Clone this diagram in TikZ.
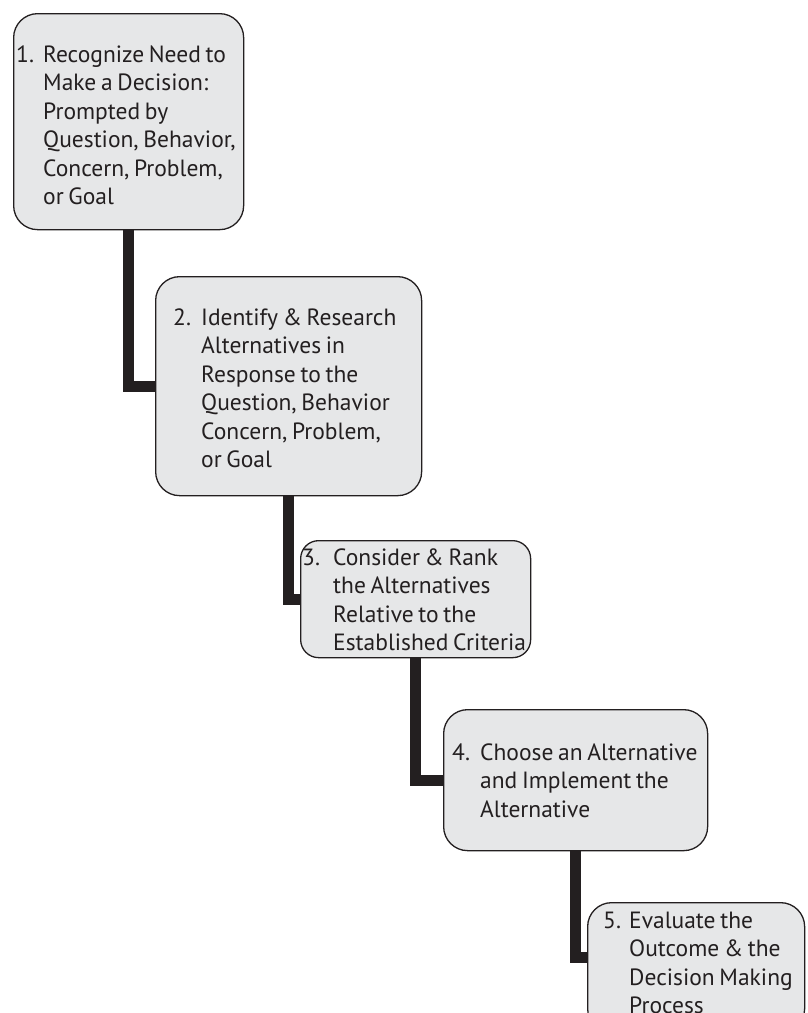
\documentclass[tikz,border=0pt]{standalone}
\usepackage{fontspec}
\setmainfont[WordSpace={0.75}]{PT Sans}
\usepackage{array}
\definecolor{boxgray}{HTML}{E6E7E8}
\definecolor{inkblack}{HTML}{231F20}
\tikzset{
  stepbox/.style={draw=inkblack, line width=1.3pt, fill=boxgray,
    rounded corners=24pt, anchor=north west, inner sep=0pt},
  steptext/.style={anchor=north west, inner sep=0pt, text=inkblack,
    font=\fontsize{23.5}{28.5}\selectfont},
  link/.style={draw=inkblack, line width=11pt}
}
% number column width, number, lines
\newcommand{\stepitem}[3]{\begin{tabular}{@{}p{#1}@{}l@{}}#2 & #3\end{tabular}}

\begin{document}
\begin{tikzpicture}[x=1pt, y=-1pt]
    \clip (0,0) rectangle (807,1013);
    % Draw the five boxes
    \node[stepbox, minimum width=230pt, minimum height=216pt] (b1) at (13,13) {};
    \node[stepbox, minimum width=266pt, minimum height=219pt] (b2) at (155,276) {};
    \node[stepbox, minimum width=230pt, minimum height=117pt, rounded corners=18pt] (b3) at (300,540) {};
    \node[stepbox, minimum width=264pt, minimum height=141pt] (b4) at (443,709) {};
    \node[stepbox, minimum width=217pt, minimum height=130pt] (b5) at (587,902) {};
    % Draw the steps between them
    \draw[link] (b1.south) |- (b2.west);
    \draw[link] (b2.south) |- (b3.west);
    \draw[link] (b3.south) |- (b4.west);
    \draw[link] (b4.south) |- ([yshift=10pt]b5.west);
    % Texts
    \node[steptext] (t1) at (16,42) {\stepitem{27pt}{1.}{Recognize Need to\\
        & Make a Decision:\\ & Prompted by\\ & Question, Behavior,\\
        & Concern, Problem,\\ & or Goal}};
    \node[steptext] (t2) at (173,305) {\stepitem{28pt}{2.}{Identify \& Research\\
        & Alternatives in\\ & Response to the\\ & Question, Behavior\\
        & Concern, Problem,\\ & or Goal}};
    \node[steptext] (t3) at (302,545) {\stepitem{31pt}{3.}{Consider \& Rank\\
        & the Alternatives\\ & Relative to the\\ & Established Criteria}};
    \node[steptext] (t4) at (452,740) {\stepitem{28pt}{4.}{Choose an Alternative\\
        & and Implement the\\ & Alternative}};
    \node[steptext] (t5) at (603,908) {\stepitem{26pt}{5.}{Evaluate the\\
        & Outcome \& the\\ & Decision Making\\ & Process}};
\end{tikzpicture}
\end{document}
